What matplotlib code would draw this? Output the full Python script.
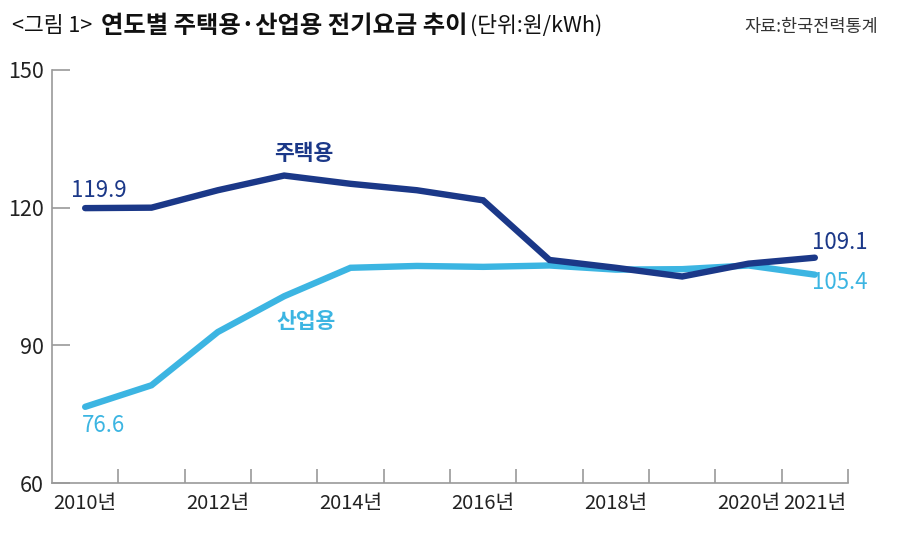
import numpy as np
import matplotlib.pyplot as plt

plt.rcParams['font.family'] = ['Noto Sans CJK KR', 'DejaVu Sans']

years = [2010, 2011, 2012, 2013, 2014, 2015, 2016, 2017, 2018, 2019, 2020, 2021]
residential = [119.9, 120.0, 123.8, 127.0, 125.2, 123.8, 121.6, 108.6, 106.9, 105.0, 107.8, 109.1]
industrial = [76.6, 81.3, 92.9, 100.7, 106.9, 107.3, 107.1, 107.4, 106.5, 106.6, 107.4, 105.4]
label_years = [2010, 2012, 2014, 2016, 2018, 2020, 2021]
y_ticks = [60, 90, 120, 150]

NAVY = '#1b3888'
CYAN = '#3cb5e2'
GRAY = '#9a9a9a'

fig = plt.figure(figsize=(9, 5.35), dpi=100)
ax = fig.add_axes([52/900, 1 - 483/535, (848 - 52)/900, (483 - 70)/535])

x = np.arange(len(years))
ax.plot(x, industrial, color=CYAN, lw=4.6, solid_capstyle='round', solid_joinstyle='miter')
ax.plot(x, residential, color=NAVY, lw=4.6, solid_capstyle='round', solid_joinstyle='miter')

ax.set_xlim(-0.5, len(years) - 0.5)
ax.set_ylim(60, 150)

for s in ['top', 'right']:
    ax.spines[s].set_visible(False)
for s in ['left', 'bottom']:
    ax.spines[s].set_color(GRAY)
    ax.spines[s].set_linewidth(1.2)

ax.set_yticks(y_ticks)
ax.set_yticklabels([str(v) for v in y_ticks], fontsize=15.5, color='#222222')
ax.tick_params(axis='y', direction='in', length=13, width=1.2, color=GRAY, pad=6)

ax.set_xticks([years.index(y) for y in label_years])
ax.set_xticklabels([f'{y}년' for y in label_years], fontsize=14.5, color='#222222')
ax.set_xticks(np.arange(len(years)) + 0.5, minor=True)
ax.tick_params(axis='x', which='major', length=0, pad=7)
ax.tick_params(axis='x', which='minor', direction='in', length=10, width=1.2, color=GRAY)

# labels on lines
ax.text(3.3, 131.7, '주택용', color=NAVY, fontsize=15.5, fontweight='bold', ha='center', va='center')
ax.text(3.33, 95.3, '산업용', color=CYAN, fontsize=15.5, fontweight='bold', ha='center', va='center')
ax.text(0.2, 123.8, f'{residential[0]}', color=NAVY, fontsize=16, ha='center', va='center')
ax.text(0.27, 72.6, f'{industrial[0]}', color=CYAN, fontsize=16, ha='center', va='center')
ax.text(11.37, 112.4, f'{residential[-1]}', color=NAVY, fontsize=16, ha='center', va='center')
ax.text(11.37, 103.6, f'{industrial[-1]}', color=CYAN, fontsize=16, ha='center', va='center')

# title
fig.text(12/900, 1 - 26/535, '<그림 1>', fontsize=15.5, color='#111111', va='center')
fig.text(101/900, 1 - 26/535, '연도별 주택용·산업용 전기요금 추이', fontsize=17.5,
         fontweight='bold', color='#111111', va='center')
fig.text(470/900, 1 - 26/535, '(단위:원/kWh)', fontsize=15.5, color='#111111', va='center')
fig.text(878/900, 1 - 27/535, '자료:한국전력통계', fontsize=12.6, color='#333333',
         va='center', ha='right')

fig.savefig('out.png', dpi=100, facecolor='white')
